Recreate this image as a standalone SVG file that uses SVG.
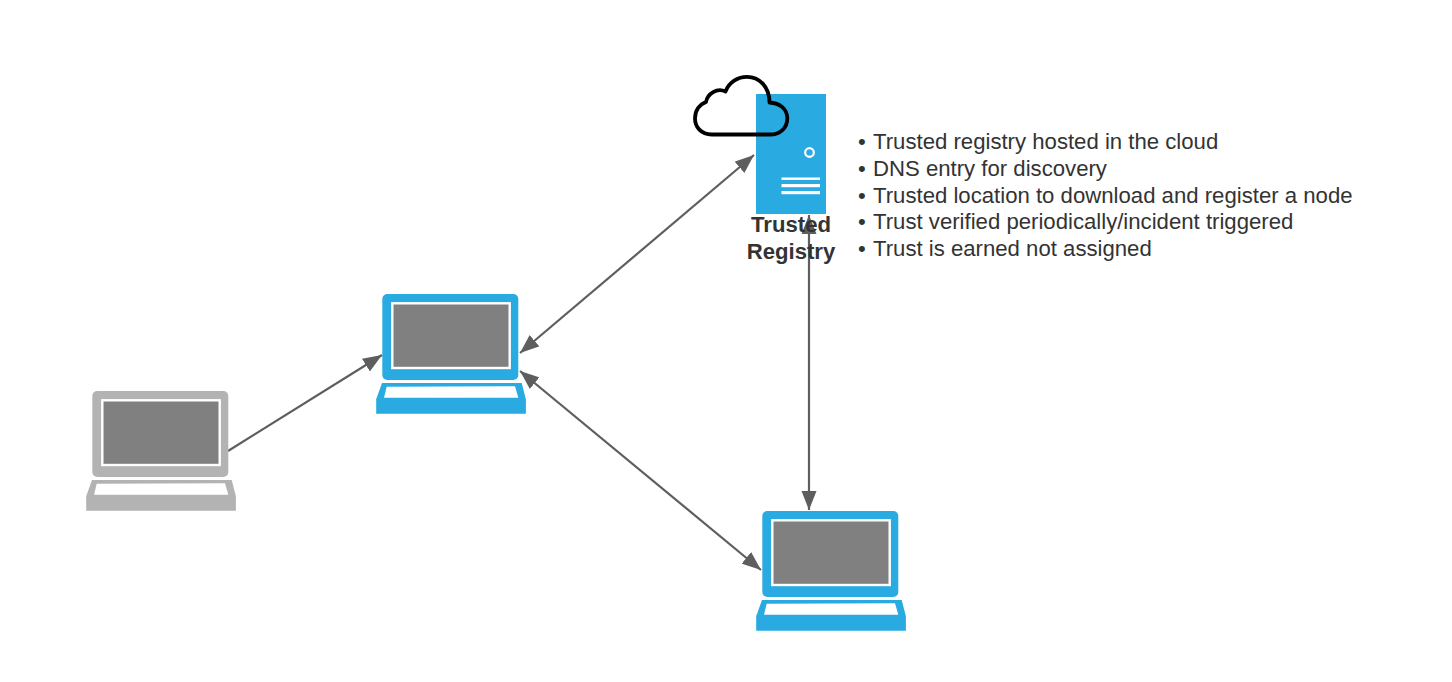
<svg xmlns="http://www.w3.org/2000/svg" width="1452" height="682" viewBox="0 0 1452 682">
<style>
text{font-family:"Liberation Sans",Arial,sans-serif;font-size:22.17px;fill:#333333}
.label{font-weight:bold;text-anchor:middle}
.conn{stroke:#5e5e5e;stroke-width:2.2;fill:none;marker-end:url(#arrow)}
.both{marker-start:url(#arrowStart)}
.screen{fill:#808080;stroke:#ffffff;stroke-width:2.4}
.key{fill:#ffffff}
</style>
<defs>
<marker id="arrow" markerUnits="userSpaceOnUse" markerWidth="20" markerHeight="16" refX="19" refY="8" orient="auto"><path d="M0 0.500L19 8L0 15.500z" fill="#5e5e5e"/></marker>
<marker id="arrowStart" markerUnits="userSpaceOnUse" markerWidth="20" markerHeight="16" refX="1" refY="8" orient="auto"><path d="M20 0.500L1 8L20 15.500z" fill="#5e5e5e"/></marker>
<g id="laptopShape">
<rect x="6.300" y="0" width="136" height="86" rx="5"/>
<path d="M6 89H145.700L149.900 105.300V119.700H0.200V105.300z"/>
<rect class="screen" x="16.300" y="9.300" width="117.400" height="64.700"/>
<path class="key" d="M10.700 92.800L139 92.300L142.300 103.700L8 103.700z"/>
</g>
</defs>
<g id="connectors">
<line class="conn" x1="228" y1="451" x2="382" y2="355"/>
<line class="conn both" x1="520" y1="353" x2="754" y2="155"/>
<line class="conn both" x1="520" y1="371" x2="761" y2="570"/>
<line class="conn both" x1="809" y1="215" x2="809" y2="510"/>
</g>
<g id="node-server">
<rect x="756" y="94" width="70" height="120" fill="#29abe2"/>
<circle cx="809.500" cy="152.500" r="4.300" fill="#29abe2" stroke="#ffffff" stroke-width="2.200"/>
<rect x="781.500" y="177.500" width="38.500" height="2.400" fill="#ffffff"/>
<rect x="781.500" y="184" width="38.500" height="3.200" fill="#ffffff"/>
<rect x="781.500" y="191" width="38.500" height="3.200" fill="#ffffff"/>
<path d="M711.700 134.500C701 134.500 695 127 695 118.500C695 110.500 699.500 104.500 706 102C707.500 93.500 717 87.500 725.500 91.500C729 82 738 76.800 747 76.800C759 76.800 769.500 86.500 769.500 102.500C780 103 787.300 109 787.300 118.500C787.300 128 780 134.500 770 134.500Z" fill="none" stroke="#000000" stroke-width="3.800" stroke-linejoin="round"/>
<text class="label" x="791" y="232">Trusted</text>
<text class="label" x="791" y="259">Registry</text>
</g>
<g id="node-laptop-gray" fill="#b3b3b3"><use href="#laptopShape" x="86" y="391"/></g>
<g id="node-laptop-middle" fill="#29abe2"><use href="#laptopShape" x="376" y="294"/></g>
<g id="node-laptop-bottom" fill="#29abe2"><use href="#laptopShape" x="756" y="511"/></g>
<g id="notes">
<text x="858" y="149">•</text><text x="873" y="149">Trusted registry hosted in the cloud</text>
<text x="858" y="176">•</text><text x="873" y="176">DNS entry for discovery</text>
<text x="858" y="203">•</text><text x="873" y="203">Trusted location to download and register a node</text>
<text x="858" y="229">•</text><text x="873" y="229">Trust verified periodically/incident triggered</text>
<text x="858" y="256">•</text><text x="873" y="256">Trust is earned not assigned</text>
</g>
</svg>
